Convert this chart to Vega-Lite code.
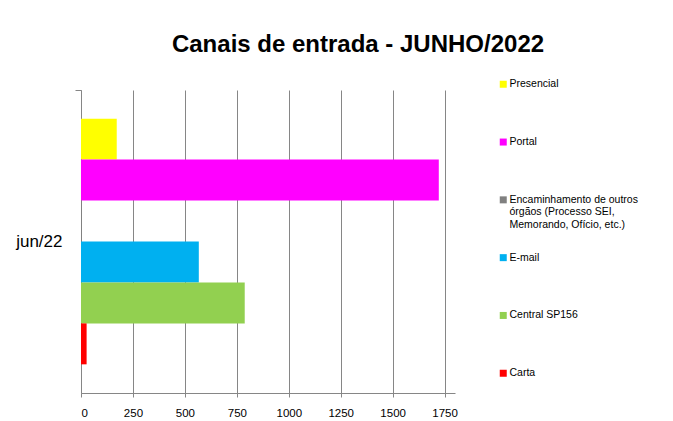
{
  "$schema": "https://vega.github.io/schema/vega-lite/v6.json",
  "width": 374,
  "height": 303,
  "autosize": {"type": "none"},
  "padding": {"left": 81, "top": 90, "right": 218, "bottom": 28},
  "background": "white",
  "title": {
    "text": "Canais de entrada - JUNHO/2022",
    "font": "Liberation Sans",
    "fontSize": 24,
    "fontWeight": "bold",
    "color": "#000000",
    "anchor": "middle",
    "dx": 90,
    "offset": 22,
    "limit": 600
  },
  "data": {
    "values": [
      {"mes": "jun/22", "canal": "Presencial", "valor": 172},
      {"mes": "jun/22", "canal": "Portal", "valor": 1722},
      {"mes": "jun/22", "canal": "Encaminhamento de outros órgãos (Processo SEI, Memorando, Ofício, etc.)", "valor": 4},
      {"mes": "jun/22", "canal": "E-mail", "valor": 567},
      {"mes": "jun/22", "canal": "Central SP156", "valor": 788},
      {"mes": "jun/22", "canal": "Carta", "valor": 27}
    ]
  },
  "mark": {"type": "bar"},
  "encoding": {
    "y": {
      "field": "mes",
      "type": "nominal",
      "scale": {"paddingInner": 0, "paddingOuter": 0},
      "axis": {
        "title": null,
        "labelFont": "Liberation Sans",
        "labelFontSize": 17,
        "labelColor": "#000000",
        "labelPadding": 13,
        "domainColor": "#868686",
        "tickColor": "#868686",
        "tickSize": 6,
        "bandPosition": 0,
        "grid": false
      }
    },
    "yOffset": {
      "field": "canal",
      "type": "nominal",
      "sort": ["Presencial", "Portal", "Encaminhamento de outros órgãos (Processo SEI, Memorando, Ofício, etc.)", "E-mail", "Central SP156", "Carta"],
      "scale": {"paddingInner": 0, "paddingOuter": 0.7}
    },
    "x": {
      "field": "valor",
      "type": "quantitative",
      "scale": {"domain": [0, 1800], "nice": false},
      "axis": {
        "title": null,
        "values": [0, 250, 500, 750, 1000, 1250, 1500, 1750],
        "format": "d",
        "labelFont": "Liberation Sans",
        "labelFontSize": 11.5,
        "labelColor": "#000000",
        "labelPadding": 10,
        "domainColor": "#868686",
        "tickColor": "#868686",
        "tickSize": 4,
        "grid": true,
        "gridColor": "#868686",
        "gridWidth": 1
      }
    },
    "color": {
      "field": "canal",
      "type": "nominal",
      "sort": ["Presencial", "Portal", "Encaminhamento de outros órgãos (Processo SEI, Memorando, Ofício, etc.)", "E-mail", "Central SP156", "Carta"],
      "scale": {
        "domain": ["Presencial", "Portal", "Encaminhamento de outros órgãos (Processo SEI, Memorando, Ofício, etc.)", "E-mail", "Central SP156", "Carta"],
        "range": ["#FFFF00", "#FF00FF", "#808080", "#00B0F0", "#92D050", "#FF0000"]
      },
      "legend": {
        "title": null,
        "orient": "none",
        "legendX": 417,
        "legendY": -11,
        "symbolType": "square",
        "symbolSize": 49,
        "symbolStrokeWidth": 0,
        "labelFont": "Liberation Sans",
        "labelFontSize": 10.5,
        "labelColor": "#000000",
        "labelLimit": 300,
        "labelOffset": 1,
        "labelBaseline": "top",
        "symbolOffset": 0,
        "rowPadding": 21.8,
        "labelExpr": "indexof(datum.label, 'Encaminhamento') == 0 ? ['Encaminhamento de outros', 'órgãos (Processo SEI,', 'Memorando, Ofício, etc.)'] : [datum.label, ' ', ' ']",
        "encoding": {
          "labels": {"dy": {"value": -5}}
        }
      }
    }
  },
  "config": {
    "view": {"stroke": null},
    "axis": {"domainWidth": 1}
  }
}
